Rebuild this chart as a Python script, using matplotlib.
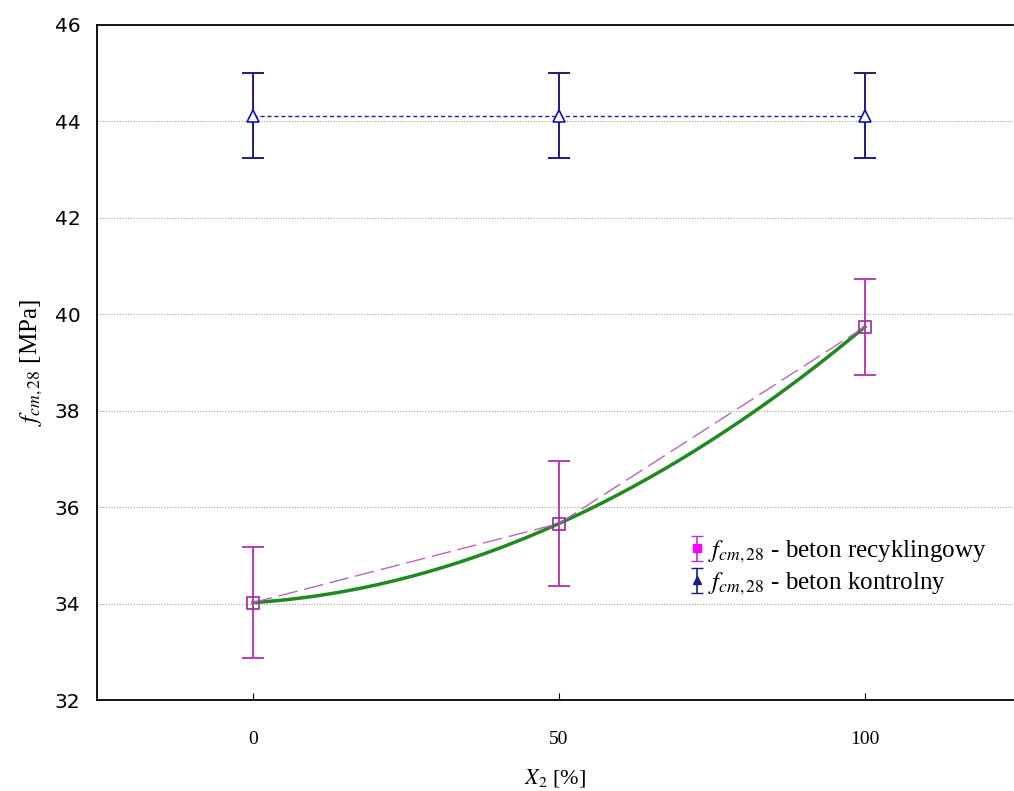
import numpy as np
import matplotlib
matplotlib.use("Agg")
import matplotlib.pyplot as plt

# Data
x_levels = [0, 50, 100]
recycled_mean = [34.02, 35.66, 39.74]
recycled_err = [1.15, 1.29, 1.00]
control_mean = [44.12, 44.12, 44.12]
control_err = [0.88, 0.88, 0.88]
xticks = [0, 50, 100]
yticks = [32, 34, 36, 38, 40, 42, 44, 46]

plt.rcParams['mathtext.fontset'] = 'stix'

W, H = 1014, 791
fig = plt.figure(figsize=(W / 100, H / 100), dpi=100)
ax = fig.add_axes([97 / W, (H - 700) / H, (1013 - 97) / W, 675 / H])

mag = '#b83cb8'
navy = '#1c1c80'
blue = '#1010c0'
green = '#1f8a1f'

ax.set_xlim(-25.5, 124.2)
ax.set_ylim(32, 46)

# grid
for yv in yticks[1:-1]:
    ax.axhline(yv, color='#a0a0a0', lw=0.8, ls=(0, (1, 1.5)), zorder=0)

# quadratic fit through recycled means (green)
coef = np.polyfit(x_levels, recycled_mean, 2)
xs = np.linspace(min(x_levels), max(x_levels), 200)
ax.plot(xs, np.polyval(coef, xs), color=green, lw=2.5, zorder=2)

# recycled dashed connecting line
ax.plot(x_levels, recycled_mean, color='#c060c0', lw=1.0, ls=(0, (14, 5)), zorder=3)
ax.errorbar(x_levels, recycled_mean, yerr=recycled_err, fmt='none', ecolor=mag,
            elinewidth=1.4, capsize=8, capthick=1.4, zorder=4)
ax.plot(x_levels, recycled_mean, ls='none', marker='s', ms=9, mfc='none',
        mec='#9a2a9a', mew=1.2, zorder=5)

# control
ax.plot(x_levels, control_mean, color='#2020a0', lw=1.0, ls=(0, (3, 2)), zorder=3)
ax.errorbar(x_levels, control_mean, yerr=control_err, fmt='none', ecolor=navy,
            elinewidth=1.4, capsize=8, capthick=1.4, zorder=4)
ax.plot(x_levels, control_mean, ls='none', marker='^', ms=9, mfc='white',
        mec=blue, mew=1.2, zorder=5)

# legend proxies
h1 = ax.errorbar([np.nan], [np.nan], yerr=[0.5], fmt='s', color=mag, mfc='#ff00ff',
                 mec='#ff00ff', ms=6, capsize=4, elinewidth=1.2)
h2 = ax.errorbar([np.nan], [np.nan], yerr=[0.5], fmt='^', color=navy, mfc=navy,
                 mec=navy, ms=6, capsize=4, elinewidth=1.2)
leg = ax.legend([h1, h2],
                [r'$f_{cm,28}$ - beton recyklingowy', r'$f_{cm,28}$ - beton kontrolny'],
                loc='center left', bbox_to_anchor=(0.645, 0.196), frameon=False,
                borderpad=0, borderaxespad=0, handlelength=0.7, handletextpad=0.12,
                labelspacing=0.22, prop={'family': 'Liberation Serif', 'size': 18})

ax.set_xticks(xticks)
ax.set_yticks(yticks)
ax.set_xticklabels([str(v) for v in xticks], family='Liberation Serif', fontsize=14)
ax.set_yticklabels([str(v) for v in yticks], family='DejaVu Sans', fontsize=14.5)
ax.tick_params(axis='x', direction='in', length=5, pad=22)
ax.tick_params(axis='y', length=0, pad=12)

for s in ['left', 'top', 'bottom']:
    ax.spines[s].set_linewidth(1.3)
ax.spines['right'].set_visible(False)

ax.set_xlabel(r'$X_2$ [%]', family='Liberation Serif', fontsize=16, labelpad=14)
ax.set_ylabel(r'$f_{cm,28}$ [MPa]', family='Liberation Serif', fontsize=18, labelpad=7)

fig.savefig('out.png', dpi=100)
